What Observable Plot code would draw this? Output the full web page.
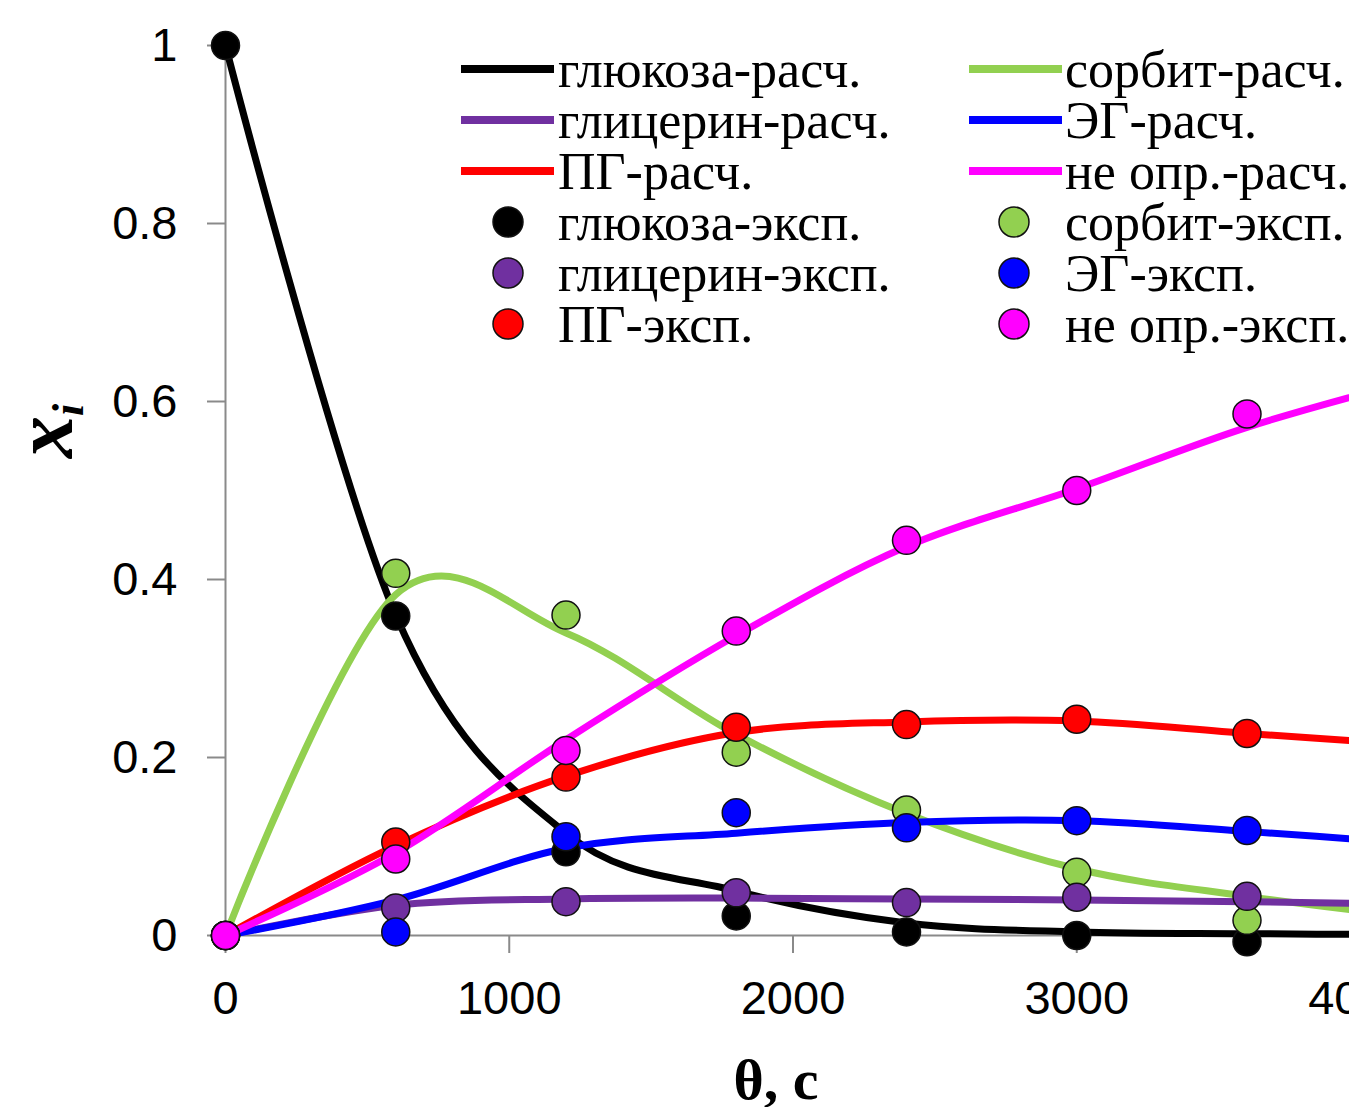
<!DOCTYPE html>
<html><head><meta charset="utf-8">
<script src="https://cdn.jsdelivr.net/npm/d3@7"></script>
<script src="https://cdn.jsdelivr.net/npm/@observablehq/plot@0.6"></script>
<style>
html,body{margin:0;padding:0;overflow:hidden;background:#fff;width:1349px;height:1107px}
#wrap{position:relative;width:1349px;height:1107px;overflow:hidden;background:#fff}
#chart{position:absolute;left:0;top:0;width:1460px}
#chart svg{max-width:none !important;width:1460px;height:1107px}
</style></head><body>
<div id="wrap"><div id="chart"></div></div>
<script>
// ---- data ----
const species = ["глюкоза","сорбит","глицерин","ЭГ","ПГ","не опр."];
const colors  = ["#000000","#92D050","#7030A0","#0000FF","#FF0000","#FF00FF"];

const calcTimes    = [0, 600, 1200, 1800, 2400, 3000, 3600, 4200];
const glucoseCalc  = [1.0, 0.36, 0.115, 0.05, 0.014, 0.004, 0.002, 0.001];
const sorbitCalc   = [0, 0.383, 0.34, 0.226, 0.137, 0.075, 0.044, 0.02];
const glycerinCalc = [0, 0.034, 0.041, 0.042, 0.041, 0.040, 0.038, 0.035];
const egCalc       = [0, 0.040, 0.098, 0.115, 0.127, 0.129, 0.117, 0.103];
const pgCalc       = [0, 0.101, 0.179, 0.228, 0.240, 0.241, 0.227, 0.214];
const undefCalc    = [0, 0.093, 0.22, 0.337, 0.437, 0.502, 0.571, 0.625];

const expTimes    = [0, 600, 1200, 1800, 2400, 3000, 3600];
const glucoseExp  = [1.0, 0.359, 0.094, 0.022, 0.004, 0.0, -0.007];
const sorbitExp   = [0, 0.407, 0.36, 0.206, 0.141, 0.071, 0.017];
const glycerinExp = [0, 0.031, 0.038, 0.048, 0.037, 0.043, 0.044];
const egExp       = [0, 0.004, 0.111, 0.138, 0.121, 0.129, 0.118];
const pgExp       = [0, 0.105, 0.178, 0.234, 0.237, 0.243, 0.227];
const undefExp    = [0, 0.086, 0.208, 0.342, 0.444, 0.500, 0.586];

const xTicks = [0, 1000, 2000, 3000, 4000];
const yTicks = [0, 0.2, 0.4, 0.6, 0.8, 1];
const calcSuffix = "-расч.";
const expSuffix = "-эксп.";
const xTitle = "θ, с";

// ---- tables ----
const calcSeries = [glucoseCalc, sorbitCalc, glycerinCalc, egCalc, pgCalc, undefCalc];
const expSeries  = [glucoseExp, sorbitExp, glycerinExp, egExp, pgExp, undefExp];
const calcRows = species.flatMap((s, i) => calcTimes.map((t, j) => ({s, t, v: calcSeries[i][j]})));
const expRows  = species.flatMap((s, i) => expTimes.map((t, j) => ({s, t, v: expSeries[i][j]})));

const serif = '"Liberation Serif","Times New Roman",serif';
const gray = "#8a8a8a";

const chart = Plot.plot({
  width: 1460, height: 1107,
  marginLeft: 225, marginRight: 100, marginTop: 45, marginBottom: 172,
  style: {background: "white", fontFamily: '"Liberation Sans", Arial, sans-serif', fontSize: "47px", color: "black", overflow: "visible", maxWidth: "none"},
  x: {domain: [0, 4000], label: null},
  y: {domain: [0, 1], label: null},
  color: {domain: species, range: colors},
  marks: [
    Plot.ruleY([0], {stroke: gray, strokeWidth: 2}),
    Plot.ruleX([0], {stroke: gray, strokeWidth: 2}),
    Plot.axisX({ticks: xTicks, tickFormat: d => String(d), tickSize: 18, tickPadding: 27, stroke: gray, strokeWidth: 2, fontSize: 47, label: null}),
    Plot.axisY({ticks: yTicks, tickFormat: d => String(d), tickSize: 18, tickPadding: 30, stroke: gray, strokeWidth: 2, fontSize: 47, label: null}),
    Plot.line(calcRows, {x: "t", y: "v", z: "s", stroke: "s", strokeWidth: 7, curve: "cardinal"}),
    Plot.dot(expRows, {x: "t", y: "v", fill: "s", stroke: "#111", strokeWidth: 1.5, r: 14})
  ]
});
document.getElementById("chart").appendChild(chart);

const svg = d3.select(chart);

// y title
const yl = svg.append("text")
  .attr("transform", "translate(72,458) rotate(-90)")
  .attr("text-anchor", "start")
  .attr("font-family", serif).attr("font-weight", "bold").attr("font-style", "italic")
  .attr("font-size", 84).attr("fill", "black");
yl.append("tspan").text("x");
yl.append("tspan").attr("font-size", 44).attr("dy", 11).text("i");

// x title
svg.append("text")
  .attr("x", 776).attr("y", 1099).attr("text-anchor", "middle")
  .attr("font-family", serif).attr("font-weight", "bold").attr("font-size", 58)
  .attr("fill", "black").text(xTitle);

// legend
const cols = [{line0: 461, dot: 508, text: 558}, {line0: 969, dot: 1014, text: 1065}];
const leg = svg.append("g").attr("font-family", serif).attr("font-size", 52)
  .attr("fill", "black").attr("text-anchor", "start");
for (let r = 0; r < 6; r++) {
  const cy = 69 + 51 * r;
  for (let c = 0; c < 2; c++) {
    const idx = (r % 3) * 2 + c;
    const col = cols[c];
    if (r < 3) {
      leg.append("line").attr("x1", col.line0).attr("x2", col.line0 + 93)
        .attr("y1", cy).attr("y2", cy).attr("stroke", colors[idx]).attr("stroke-width", 8);
    } else {
      leg.append("circle").attr("cx", col.dot).attr("cy", cy).attr("r", 15)
        .attr("fill", colors[idx]).attr("stroke", "#111").attr("stroke-width", 1.5);
    }
    leg.append("text").attr("x", col.text).attr("y", cy + 18).attr("text-anchor", "start")
      .text(species[idx] + (r < 3 ? calcSuffix : expSuffix));
  }
}
</script>
</body></html>
